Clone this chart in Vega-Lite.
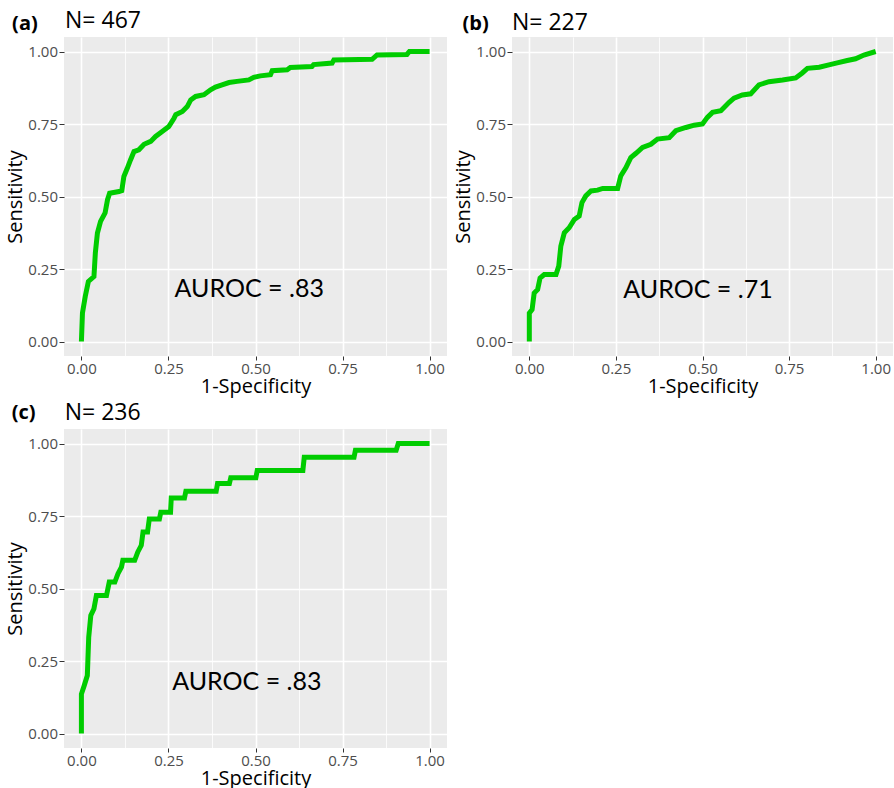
{
  "$schema": "https://vega.github.io/schema/vega-lite/v6.json",
  "padding": {"left": 5, "top": 10, "right": 0, "bottom": 0},
  "background": "white",
  "config": {
    "view": {"fill": "#EBEBEB", "stroke": null},
    "axis": {
      "domain": false,
      "gridColor": "#FFFFFF",
      "tickColor": "#333333",
      "tickWidth": 1,
      "labelColor": "#4D4D4D",
      "labelFont": "Open Sans",
      "labelFontSize": 15,
      "labelFlush": false,
      "titleFont": "Open Sans",
      "titleFontSize": 20,
      "titleFontWeight": "normal",
      "titleColor": "#000000"
    },
    "axisX": {"labelPadding": 1, "titlePadding": 0},
    "axisY": {"labelPadding": 1.5, "titlePadding": 2}
  },
  "datasets": {
    "rocA": [
      {"fpr": 0, "tpr": 0}, {"fpr": 0.003, "tpr": 0.098}, {"fpr": 0.011, "tpr": 0.155}, {"fpr": 0.02, "tpr": 0.207},
      {"fpr": 0.036, "tpr": 0.224}, {"fpr": 0.04, "tpr": 0.305}, {"fpr": 0.046, "tpr": 0.374}, {"fpr": 0.055, "tpr": 0.414},
      {"fpr": 0.068, "tpr": 0.443}, {"fpr": 0.075, "tpr": 0.489}, {"fpr": 0.081, "tpr": 0.511}, {"fpr": 0.108, "tpr": 0.517},
      {"fpr": 0.116, "tpr": 0.52}, {"fpr": 0.122, "tpr": 0.569}, {"fpr": 0.132, "tpr": 0.598}, {"fpr": 0.141, "tpr": 0.626},
      {"fpr": 0.151, "tpr": 0.655}, {"fpr": 0.165, "tpr": 0.661}, {"fpr": 0.18, "tpr": 0.68}, {"fpr": 0.199, "tpr": 0.69},
      {"fpr": 0.213, "tpr": 0.707}, {"fpr": 0.232, "tpr": 0.724}, {"fpr": 0.251, "tpr": 0.741}, {"fpr": 0.266, "tpr": 0.77},
      {"fpr": 0.271, "tpr": 0.782}, {"fpr": 0.29, "tpr": 0.793}, {"fpr": 0.304, "tpr": 0.81}, {"fpr": 0.314, "tpr": 0.833},
      {"fpr": 0.328, "tpr": 0.845}, {"fpr": 0.352, "tpr": 0.851}, {"fpr": 0.371, "tpr": 0.868}, {"fpr": 0.385, "tpr": 0.877},
      {"fpr": 0.404, "tpr": 0.885}, {"fpr": 0.424, "tpr": 0.893}, {"fpr": 0.447, "tpr": 0.897}, {"fpr": 0.481, "tpr": 0.902},
      {"fpr": 0.495, "tpr": 0.911}, {"fpr": 0.514, "tpr": 0.916}, {"fpr": 0.543, "tpr": 0.92}, {"fpr": 0.548, "tpr": 0.934},
      {"fpr": 0.591, "tpr": 0.937}, {"fpr": 0.6, "tpr": 0.945}, {"fpr": 0.662, "tpr": 0.948}, {"fpr": 0.667, "tpr": 0.955},
      {"fpr": 0.72, "tpr": 0.96}, {"fpr": 0.725, "tpr": 0.971}, {"fpr": 0.835, "tpr": 0.973}, {"fpr": 0.849, "tpr": 0.988},
      {"fpr": 0.935, "tpr": 0.99}, {"fpr": 0.942, "tpr": 1.0}, {"fpr": 1, "tpr": 1}
    ],
    "rocB": [
      {"fpr": 0, "tpr": 0}, {"fpr": 0, "tpr": 0.098}, {"fpr": 0.008, "tpr": 0.11}, {"fpr": 0.014, "tpr": 0.167},
      {"fpr": 0.024, "tpr": 0.179}, {"fpr": 0.031, "tpr": 0.219}, {"fpr": 0.043, "tpr": 0.231}, {"fpr": 0.077, "tpr": 0.231},
      {"fpr": 0.085, "tpr": 0.26}, {"fpr": 0.091, "tpr": 0.329}, {"fpr": 0.101, "tpr": 0.375}, {"fpr": 0.115, "tpr": 0.392},
      {"fpr": 0.13, "tpr": 0.421}, {"fpr": 0.144, "tpr": 0.433}, {"fpr": 0.152, "tpr": 0.479}, {"fpr": 0.163, "tpr": 0.502},
      {"fpr": 0.178, "tpr": 0.519}, {"fpr": 0.197, "tpr": 0.522}, {"fpr": 0.212, "tpr": 0.528}, {"fpr": 0.255, "tpr": 0.528},
      {"fpr": 0.264, "tpr": 0.571}, {"fpr": 0.279, "tpr": 0.6}, {"fpr": 0.293, "tpr": 0.634}, {"fpr": 0.308, "tpr": 0.649},
      {"fpr": 0.327, "tpr": 0.669}, {"fpr": 0.351, "tpr": 0.68}, {"fpr": 0.37, "tpr": 0.698}, {"fpr": 0.404, "tpr": 0.703},
      {"fpr": 0.423, "tpr": 0.727}, {"fpr": 0.452, "tpr": 0.738}, {"fpr": 0.476, "tpr": 0.746}, {"fpr": 0.5, "tpr": 0.75},
      {"fpr": 0.514, "tpr": 0.773}, {"fpr": 0.529, "tpr": 0.79}, {"fpr": 0.553, "tpr": 0.796}, {"fpr": 0.577, "tpr": 0.825},
      {"fpr": 0.591, "tpr": 0.839}, {"fpr": 0.615, "tpr": 0.85}, {"fpr": 0.639, "tpr": 0.854}, {"fpr": 0.663, "tpr": 0.885},
      {"fpr": 0.692, "tpr": 0.896}, {"fpr": 0.731, "tpr": 0.902}, {"fpr": 0.769, "tpr": 0.909}, {"fpr": 0.788, "tpr": 0.926},
      {"fpr": 0.803, "tpr": 0.942}, {"fpr": 0.837, "tpr": 0.946}, {"fpr": 0.865, "tpr": 0.954}, {"fpr": 0.889, "tpr": 0.961},
      {"fpr": 0.918, "tpr": 0.969}, {"fpr": 0.942, "tpr": 0.975}, {"fpr": 0.966, "tpr": 0.988}, {"fpr": 1, "tpr": 1}
    ],
    "rocC": [
      {"fpr": 0, "tpr": 0}, {"fpr": 0, "tpr": 0.136}, {"fpr": 0.008, "tpr": 0.165}, {"fpr": 0.017, "tpr": 0.2},
      {"fpr": 0.021, "tpr": 0.332}, {"fpr": 0.027, "tpr": 0.407}, {"fpr": 0.036, "tpr": 0.43}, {"fpr": 0.043, "tpr": 0.476},
      {"fpr": 0.072, "tpr": 0.476}, {"fpr": 0.08, "tpr": 0.522}, {"fpr": 0.096, "tpr": 0.522}, {"fpr": 0.105, "tpr": 0.551},
      {"fpr": 0.115, "tpr": 0.574}, {"fpr": 0.119, "tpr": 0.597}, {"fpr": 0.153, "tpr": 0.597}, {"fpr": 0.162, "tpr": 0.626},
      {"fpr": 0.172, "tpr": 0.649}, {"fpr": 0.177, "tpr": 0.695}, {"fpr": 0.19, "tpr": 0.695}, {"fpr": 0.195, "tpr": 0.74},
      {"fpr": 0.224, "tpr": 0.74}, {"fpr": 0.228, "tpr": 0.763}, {"fpr": 0.256, "tpr": 0.763}, {"fpr": 0.258, "tpr": 0.812},
      {"fpr": 0.296, "tpr": 0.812}, {"fpr": 0.3, "tpr": 0.835}, {"fpr": 0.387, "tpr": 0.835}, {"fpr": 0.391, "tpr": 0.862},
      {"fpr": 0.425, "tpr": 0.862}, {"fpr": 0.429, "tpr": 0.882}, {"fpr": 0.501, "tpr": 0.882}, {"fpr": 0.505, "tpr": 0.907},
      {"fpr": 0.636, "tpr": 0.907}, {"fpr": 0.64, "tpr": 0.953}, {"fpr": 0.783, "tpr": 0.953}, {"fpr": 0.787, "tpr": 0.977},
      {"fpr": 0.904, "tpr": 0.977}, {"fpr": 0.91, "tpr": 1.0}, {"fpr": 1, "tpr": 1}
    ],
    "labA": [{"x": -0.199, "y": 1.075, "t": "(a)", "k": "tag"}, {"x": -0.047, "y": 1.08, "t": "N= 467", "k": "n"}],
    "labB": [{"x": -0.193, "y": 1.073, "t": "(b)", "k": "tag"}, {"x": -0.05, "y": 1.073, "t": "N= 227", "k": "n"}],
    "labC": [{"x": -0.2, "y": 1.085, "t": "(c)", "k": "tag"}, {"x": -0.048, "y": 1.082, "t": "N= 236", "k": "n"}]
  },
  "concat": [
    {
      "width": 383, "height": 319,
      "layer": [
        {
          "data": {"name": "rocA"},
          "mark": {"type": "line", "color": "#00CC00", "strokeWidth": 5, "strokeJoin": "miter", "strokeCap": "butt"},
          "encoding": {
            "x": {"field": "fpr", "type": "quantitative", "title": "1-Specificity", "scale": {"domain": [-0.05, 1.05], "nice": false, "zero": false},
              "axis": {"values": [0, 0.125, 0.25, 0.375, 0.5, 0.625, 0.75, 0.875, 1], "labelExpr": "datum.value % 0.25 === 0 ? format(datum.value, '.2f') : ''",
                "gridWidth": {"condition": {"test": "datum.value % 0.25 !== 0", "value": 0.8}, "value": 1.6},
                "tickOpacity": {"condition": {"test": "datum.value % 0.25 !== 0", "value": 0}, "value": 1}, "tickSize": 4}},
            "y": {"field": "tpr", "type": "quantitative", "title": "Sensitivity", "scale": {"domain": [-0.05, 1.05], "nice": false, "zero": false},
              "axis": {"values": [0, 0.125, 0.25, 0.375, 0.5, 0.625, 0.75, 0.875, 1], "labelExpr": "datum.value % 0.25 === 0 ? format(datum.value, '.2f') : ''",
                "gridWidth": {"condition": {"test": "datum.value % 0.25 !== 0", "value": 0.8}, "value": 1.6},
                "tickOpacity": {"condition": {"test": "datum.value % 0.25 !== 0", "value": 0}, "value": 1}, "tickSize": 5}},
            "order": [{"field": "fpr"}, {"field": "tpr"}]
          }
        },
        {
          "data": {"values": [{"x": 0.482, "y": 0.18, "t": "AUROC = .83"}]},
          "mark": {"type": "text", "font": "Lato", "fontSize": 25, "color": "#000000", "align": "center", "baseline": "middle"},
          "encoding": {"x": {"field": "x", "type": "quantitative"}, "y": {"field": "y", "type": "quantitative"}, "text": {"field": "t"}}
        },
        {
          "data": {"name": "labA"},
          "transform": [{"filter": "datum.k === 'tag'"}],
          "mark": {"type": "text", "font": "Open Sans", "fontSize": 20, "fontWeight": "bold", "color": "#000000", "align": "left", "baseline": "alphabetic", "clip": false},
          "encoding": {"x": {"field": "x", "type": "quantitative"}, "y": {"field": "y", "type": "quantitative"}, "text": {"field": "t"}}
        },
        {
          "data": {"name": "labA"},
          "transform": [{"filter": "datum.k === 'n'"}],
          "mark": {"type": "text", "font": "Open Sans", "fontSize": 23, "color": "#000000", "align": "left", "baseline": "alphabetic", "clip": false},
          "encoding": {"x": {"field": "x", "type": "quantitative"}, "y": {"field": "y", "type": "quantitative"}, "text": {"field": "t"}}
        }
      ]
    },
    {
      "width": 381, "height": 319,
      "layer": [
        {
          "data": {"name": "rocB"},
          "mark": {"type": "line", "color": "#00CC00", "strokeWidth": 5, "strokeJoin": "miter", "strokeCap": "butt"},
          "encoding": {
            "x": {"field": "fpr", "type": "quantitative", "title": "1-Specificity", "scale": {"domain": [-0.05, 1.05], "nice": false, "zero": false},
              "axis": {"values": [0, 0.125, 0.25, 0.375, 0.5, 0.625, 0.75, 0.875, 1], "labelExpr": "datum.value % 0.25 === 0 ? format(datum.value, '.2f') : ''",
                "gridWidth": {"condition": {"test": "datum.value % 0.25 !== 0", "value": 0.8}, "value": 1.6},
                "tickOpacity": {"condition": {"test": "datum.value % 0.25 !== 0", "value": 0}, "value": 1}, "tickSize": 4}},
            "y": {"field": "tpr", "type": "quantitative", "title": "Sensitivity", "scale": {"domain": [-0.05, 1.05], "nice": false, "zero": false},
              "axis": {"values": [0, 0.125, 0.25, 0.375, 0.5, 0.625, 0.75, 0.875, 1], "labelExpr": "datum.value % 0.25 === 0 ? format(datum.value, '.2f') : ''",
                "gridWidth": {"condition": {"test": "datum.value % 0.25 !== 0", "value": 0.8}, "value": 1.6},
                "tickOpacity": {"condition": {"test": "datum.value % 0.25 !== 0", "value": 0}, "value": 1}, "tickSize": 5}},
            "order": [{"field": "fpr"}, {"field": "tpr"}]
          }
        },
        {
          "data": {"values": [{"x": 0.487, "y": 0.179, "t": "AUROC = .71"}]},
          "mark": {"type": "text", "font": "Lato", "fontSize": 25, "color": "#000000", "align": "center", "baseline": "middle"},
          "encoding": {"x": {"field": "x", "type": "quantitative"}, "y": {"field": "y", "type": "quantitative"}, "text": {"field": "t"}}
        },
        {
          "data": {"name": "labB"},
          "transform": [{"filter": "datum.k === 'tag'"}],
          "mark": {"type": "text", "font": "Open Sans", "fontSize": 20, "fontWeight": "bold", "color": "#000000", "align": "left", "baseline": "alphabetic", "clip": false},
          "encoding": {"x": {"field": "x", "type": "quantitative"}, "y": {"field": "y", "type": "quantitative"}, "text": {"field": "t"}}
        },
        {
          "data": {"name": "labB"},
          "transform": [{"filter": "datum.k === 'n'"}],
          "mark": {"type": "text", "font": "Open Sans", "fontSize": 23, "color": "#000000", "align": "left", "baseline": "alphabetic", "clip": false},
          "encoding": {"x": {"field": "x", "type": "quantitative"}, "y": {"field": "y", "type": "quantitative"}, "text": {"field": "t"}}
        }
      ]
    },
    {
      "width": 383, "height": 319,
      "layer": [
        {
          "data": {"name": "rocC"},
          "mark": {"type": "line", "color": "#00CC00", "strokeWidth": 5, "strokeJoin": "miter", "strokeCap": "butt"},
          "encoding": {
            "x": {"field": "fpr", "type": "quantitative", "title": "1-Specificity", "scale": {"domain": [-0.05, 1.05], "nice": false, "zero": false},
              "axis": {"values": [0, 0.125, 0.25, 0.375, 0.5, 0.625, 0.75, 0.875, 1], "labelExpr": "datum.value % 0.25 === 0 ? format(datum.value, '.2f') : ''",
                "gridWidth": {"condition": {"test": "datum.value % 0.25 !== 0", "value": 0.8}, "value": 1.6},
                "tickOpacity": {"condition": {"test": "datum.value % 0.25 !== 0", "value": 0}, "value": 1}, "tickSize": 4}},
            "y": {"field": "tpr", "type": "quantitative", "title": "Sensitivity", "scale": {"domain": [-0.05, 1.05], "nice": false, "zero": false},
              "axis": {"values": [0, 0.125, 0.25, 0.375, 0.5, 0.625, 0.75, 0.875, 1], "labelExpr": "datum.value % 0.25 === 0 ? format(datum.value, '.2f') : ''",
                "gridWidth": {"condition": {"test": "datum.value % 0.25 !== 0", "value": 0.8}, "value": 1.6},
                "tickOpacity": {"condition": {"test": "datum.value % 0.25 !== 0", "value": 0}, "value": 1}, "tickSize": 5}},
            "order": [{"field": "fpr"}, {"field": "tpr"}]
          }
        },
        {
          "data": {"values": [{"x": 0.475, "y": 0.176, "t": "AUROC = .83"}]},
          "mark": {"type": "text", "font": "Lato", "fontSize": 25, "color": "#000000", "align": "center", "baseline": "middle"},
          "encoding": {"x": {"field": "x", "type": "quantitative"}, "y": {"field": "y", "type": "quantitative"}, "text": {"field": "t"}}
        },
        {
          "data": {"name": "labC"},
          "transform": [{"filter": "datum.k === 'tag'"}],
          "mark": {"type": "text", "font": "Open Sans", "fontSize": 20, "fontWeight": "bold", "color": "#000000", "align": "left", "baseline": "alphabetic", "clip": false},
          "encoding": {"x": {"field": "x", "type": "quantitative"}, "y": {"field": "y", "type": "quantitative"}, "text": {"field": "t"}}
        },
        {
          "data": {"name": "labC"},
          "transform": [{"filter": "datum.k === 'n'"}],
          "mark": {"type": "text", "font": "Open Sans", "fontSize": 23, "color": "#000000", "align": "left", "baseline": "alphabetic", "clip": false},
          "encoding": {"x": {"field": "x", "type": "quantitative"}, "y": {"field": "y", "type": "quantitative"}, "text": {"field": "t"}}
        }
      ]
    }
  ],
  "columns": 2,
  "spacing": {"row": 73, "column": 65},
  "bounds": "flush"
}
